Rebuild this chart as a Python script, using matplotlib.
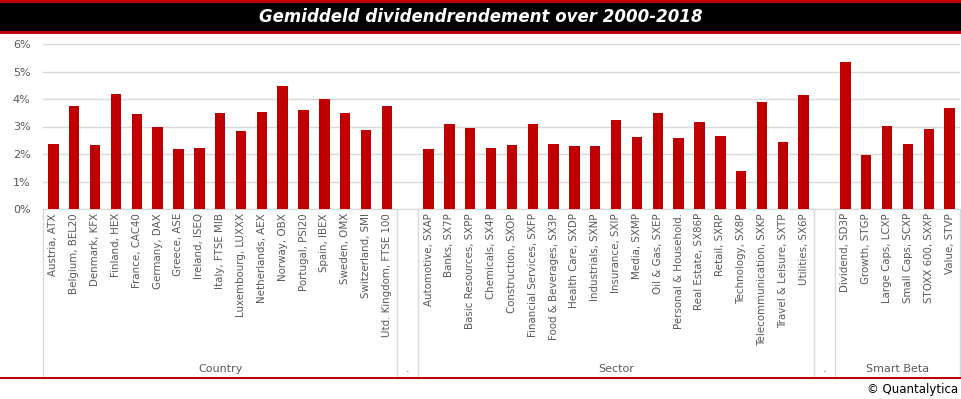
import numpy as np
import matplotlib.pyplot as plt
from matplotlib.patches import Rectangle
import matplotlib.transforms as mtransforms

# Data (average dividend yield 2000-2018, in %)
countries = ['Austria, ATX', 'Belgium, BEL20', 'Denmark, KFX', 'Finland, HEX',
             'France, CAC40', 'Germany, DAX', 'Greece, ASE', 'Ireland, ISEQ',
             'Italy, FTSE MIB', 'Luxembourg, LUXXX', 'Netherlands, AEX', 'Norway, OBX',
             'Portugal, PSI20', 'Spain, IBEX', 'Sweden, OMX', 'Switzerland, SMI',
             'Utd. Kingdom, FTSE 100']
country_vals = [2.38, 3.76, 2.34, 4.19, 3.47, 2.99, 2.19, 2.23, 3.50, 2.85,
                3.54, 4.48, 3.61, 4.01, 3.50, 2.88, 3.76]

sectors = ['Automotive, SXAP', 'Banks, SX7P', 'Basic Resources, SXPP', 'Chemicals, SX4P',
           'Construction, SXOP', 'Financial Services, SXFP', 'Food & Beverages, SX3P',
           'Health Care, SXDP', 'Industrials, SXNP', 'Insurance, SXIP', 'Media, SXMP',
           'Oil & Gas, SXEP', 'Personal & Household.', 'Real Estate, SX86P', 'Retail, SXRP',
           'Technology, SX8P', 'Telecommunication, SXKP', 'Travel & Leisure, SXTP',
           'Utilities, SX6P']
sector_vals = [2.19, 3.10, 2.96, 2.23, 2.34, 3.10, 2.38, 2.30, 2.30, 3.25, 2.63,
               3.50, 2.59, 3.18, 2.67, 1.39, 3.90, 2.45, 4.16]

smart_beta = ['Dividend, SD3P', 'Growth, STGP', 'Large Caps, LCXP', 'Small Caps, SCXP',
              'STOXX 600, SXXP', 'Value, STVP']
smart_vals = [5.36, 1.98, 3.03, 2.38, 2.92, 3.68]

groups = ['Country', '.', 'Sector', '.', 'Smart Beta']

# Build one long category axis with empty spacer categories between groups
labels = countries + [''] + sectors + [''] + smart_beta
values = country_vals + [np.nan] + sector_vals + [np.nan] + smart_vals
sizes = [len(countries), 1, len(sectors), 1, len(smart_beta)]

grey = '#595959'
red = '#c00000'

fig = plt.figure(figsize=(9.61, 3.99), dpi=100)
W, H = 961, 399

# Title banner
fig.patches.append(Rectangle((0, 1 - 33.5 / H), 1, 33 / H, transform=fig.transFigure,
                             facecolor=red, edgecolor='none'))
fig.patches.append(Rectangle((0, 1 - 31 / H), 1, 28 / H, transform=fig.transFigure,
                             facecolor='black', edgecolor='none'))
fig.text(0.5, 1 - 17 / H, 'Gemiddeld dividendrendement over 2000-2018', color='white',
         fontsize=12, fontweight='bold', fontstyle='italic', ha='center', va='center')

# Bottom red rule and copyright
fig.patches.append(Rectangle((0, 1 - 379 / H), 1, 2.2 / H, transform=fig.transFigure,
                             facecolor=red, edgecolor='none'))
fig.text(958 / W, 1 - 389 / H, '\u00a9 Quantalytica', color='black', fontsize=8.5,
         ha='right', va='center')

ax = fig.add_axes([43 / W, 1 - 209 / H, 917 / W, 165 / H])
x = np.arange(len(labels))
ax.bar(x, np.array(values) / 100, width=0.5, color=red, zorder=3)

ax.set_xlim(-0.5, len(labels) - 0.5)
ax.set_ylim(0, 0.06)
ax.set_yticks(np.arange(0, 0.061, 0.01))
ax.set_yticklabels([f'{int(round(v * 100))}%' for v in np.arange(0, 0.061, 0.01)])
ax.grid(axis='y', color='#d9d9d9', linewidth=1, zorder=0)
for s in ['top', 'right', 'left']:
    ax.spines[s].set_visible(False)
ax.spines['bottom'].set_color('#d9d9d9')
ax.tick_params(axis='y', length=0, labelsize=8, labelcolor=grey, pad=9)
ax.set_xticks(x)
ax.set_xticklabels(labels, rotation=90, fontsize=7.4, color=grey)
ax.tick_params(axis='x', length=0, pad=3)

# Group separators and group names under the tick labels
trans = mtransforms.blended_transform_factory(ax.transData, ax.transAxes)
bottom = -(376 - 209) / 165
edges = np.concatenate([[0], np.cumsum(sizes)]) - 0.5
for e in edges:
    ax.plot([e, e], [0, bottom], color='#d9d9d9', lw=1, transform=trans, clip_on=False)
for name, a, b in zip(groups, edges[:-1], edges[1:]):
    ax.text((a + b) / 2, -(369 - 209) / 165, name, transform=trans, ha='center',
            va='center', fontsize=8, color=grey)

fig.savefig('out.png', dpi=100)
